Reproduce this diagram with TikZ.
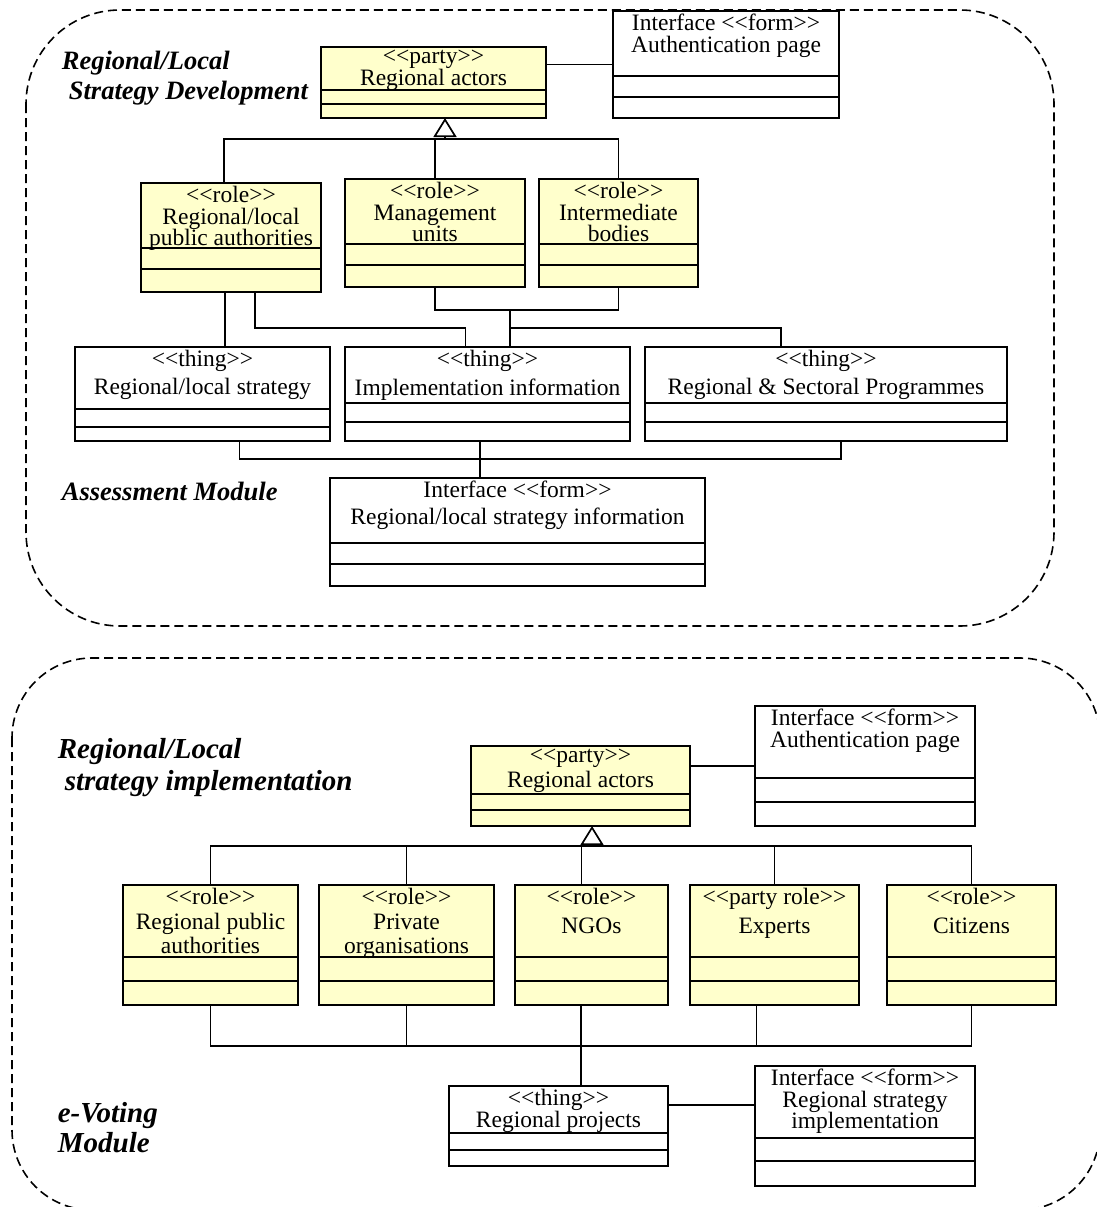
\documentclass[tikz,border=0pt]{standalone}
\usepackage{fontspec}
\setmainfont{Liberation Serif}
\usetikzlibrary{arrows.meta}
\definecolor{clsyellow}{HTML}{FFFFCC}
\newcommand{\stereo}[1]{\mbox{<}\mbox{<}#1\mbox{>}\mbox{>}}

\begin{document}
\begin{tikzpicture}[x=1pt,y=-1pt,line width=1.7pt]
  \tikzset{clsbox/.style={draw,line width=1.8pt,anchor=north west,inner sep=0pt,outer sep=0pt},
           clstext/.style={anchor=north,align=center,inner sep=0pt,yshift=-2.5pt,font=\fontsize{23.5}{21.5}\selectfont},
           clstitle/.style={anchor=north west,align=left,inner sep=0pt,font=\bfseries\itshape\fontsize{26.5}{30}\selectfont},
           modframe/.style={dash pattern=on 9pt off 5pt,line width=1.6pt},
           gen/.style={-{Triangle[open,width=23pt,length=19pt]}}}
  % name, fill, x1, y1, x2, y2, first line, second line, text
  \def\umlclass#1#2#3#4#5#6#7#8#9{%
    \node[clsbox,fill=#2,minimum width={#5-#3},minimum height={#6-#4}] (#1) at (#3,#4) {};
    \draw[line width=1.8pt] (#1.west |- 0,#7) -- (#1.east |- 0,#7) (#1.west |- 0,#8) -- (#1.east |- 0,#8);
    \node[clstext] (#1-t) at (#1.north) {#9};}
  \useasboundingbox (0,0) rectangle (1097,1207);
  \clip (0,0) rectangle (1097,1207);

  % assessment module
  \draw[modframe,rounded corners=94pt] (26,10) rectangle (1054,626);
  \node[clstitle] (t1) at (61,50) {Regional/Local\\\hspace*{7pt}Strategy Development};
  \node[clstitle,anchor=base west] (t2) at (61,500) {Assessment Module};

  \umlclass{ra}{clsyellow}{321}{47}{546}{118}{90}{104}{\stereo{party}\\Regional actors}
  \umlclass{au1}{white}{613}{11}{839}{118}{76}{97}{Interface \stereo{form}\\Authentication page}
  \umlclass{rla}{clsyellow}{141}{183}{321}{292}{248}{269}{\stereo{role}\\Regional/local\\public authorities}
  \umlclass{mgu}{clsyellow}{345}{179}{525}{287}{244}{265}{\stereo{role}\\Management\\units}
  \umlclass{itb}{clsyellow}{539}{179}{698}{287}{244}{265}{\stereo{role}\\Intermediate\\bodies}
  \umlclass{str}{white}{75}{347}{330}{441}{409}{427}{\stereo{thing}\\[6pt]Regional/local strategy}
  \umlclass{imp}{white}{345}{347}{630}{441}{403}{422}{\stereo{thing}\\[6pt]Implementation information}
  \umlclass{rsp}{white}{645}{347}{1007}{441}{403}{422}{\stereo{thing}\\[6pt]Regional \& Sectoral Programmes}
  \umlclass{inf}{white}{330}{478}{705}{586}{543}{564}{Interface \stereo{form}\\[5pt]Regional/local strategy information}

  \draw (au1.west) -- (au1.west -| ra.east);
  \coordinate (g1) at (445,139);
  \draw[gen] (g1) -- (g1 |- ra.south);
  \draw ([xshift=-7]rla.north) |- (g1) -| (itb.north);
  \draw (mgu.north) -- (mgu.north |- g1);
  \draw ([xshift=-6]rla.south) -- ([xshift=-6]rla.south |- str.north);
  \coordinate (j1) at (510,328);
  \coordinate (j2) at (510,310);
  \draw ([xshift=24]rla.south) |- ([xshift=-22]imp.north |- j1) -- ([xshift=-22]imp.north);
  \draw (mgu.south) |- (j2) -| (itb.south);
  \draw (j2) -- (j2 |- imp.north);
  \draw (j1) -| ([xshift=-45]rsp.north);
  \coordinate (j3) at (480,459);
  \draw ([xshift=37]str.south) |- (j3) -| ([xshift=15]rsp.south);
  \draw (imp.south -| j3) -- (inf.north -| j3);

  % e-voting module
  \draw[modframe,rounded corners=80pt] (12,658) rectangle (1100,1210);
  \node[clstitle,font=\bfseries\itshape\fontsize{29}{32}\selectfont] (t3) at (57,738) {Regional/Local\\\hspace*{7pt}strategy implementation};
  \node[clstitle,font=\bfseries\itshape\fontsize{29}{30}\selectfont] (t4) at (57,1102) {e-Voting\\Module};

  \umlclass{ra2}{clsyellow}{471}{746}{690}{826}{794}{810}{\stereo{party}\\[3pt]Regional actors}
  \umlclass{au2}{white}{755}{706}{975}{826}{778}{802}{Interface \stereo{form}\\Authentication page}
  \umlclass{rpa}{clsyellow}{123}{885}{298}{1005}{957}{981}{\stereo{role}\\[3pt]Regional public\\[3pt]authorities}
  \umlclass{pro}{clsyellow}{319}{885}{494}{1005}{957}{981}{\stereo{role}\\[3pt]Private\\[3pt]organisations}
  \umlclass{ngo}{clsyellow}{515}{885}{668}{1005}{957}{981}{\stereo{role}\\[7pt]NGOs}
  \umlclass{exp}{clsyellow}{690}{885}{859}{1005}{957}{981}{\stereo{party role}\\[7pt]Experts}
  \umlclass{cit}{clsyellow}{887}{885}{1056}{1005}{957}{981}{\stereo{role}\\[7pt]Citizens}
  \umlclass{rpj}{white}{449}{1086}{668}{1166}{1133}{1150}{\stereo{thing}\\Regional projects}
  \umlclass{au3}{white}{755}{1066}{975}{1186}{1138}{1161}{Interface \stereo{form}\\Regional strategy\\implementation}

  \draw (au2.west) -- (au2.west -| ra2.east);
  \coordinate (g2) at (592,846);
  \draw[gen] (g2) -- (g2 |- ra2.south);
  \draw (rpa.north) |- (g2) -| (cit.north);
  \foreach \n in {pro,exp}
    \draw (\n.north) -- (\n.north |- g2);
  \draw ([xshift=-10]ngo.north) -- ([xshift=-10]ngo.north |- g2);
  \coordinate (j5) at (581,1046);
  \draw (rpa.south) |- (j5) -| (cit.south);
  \draw (pro.south) -- (pro.south |- j5);
  \draw ([xshift=-18]exp.south) -- ([xshift=-18]exp.south |- j5);
  \draw (ngo.south -| j5) -- (rpj.north -| j5);
  \draw ([yshift=21pt]rpj.east) -- ([yshift=21pt]rpj.east -| au3.west);
\end{tikzpicture}
\end{document}
